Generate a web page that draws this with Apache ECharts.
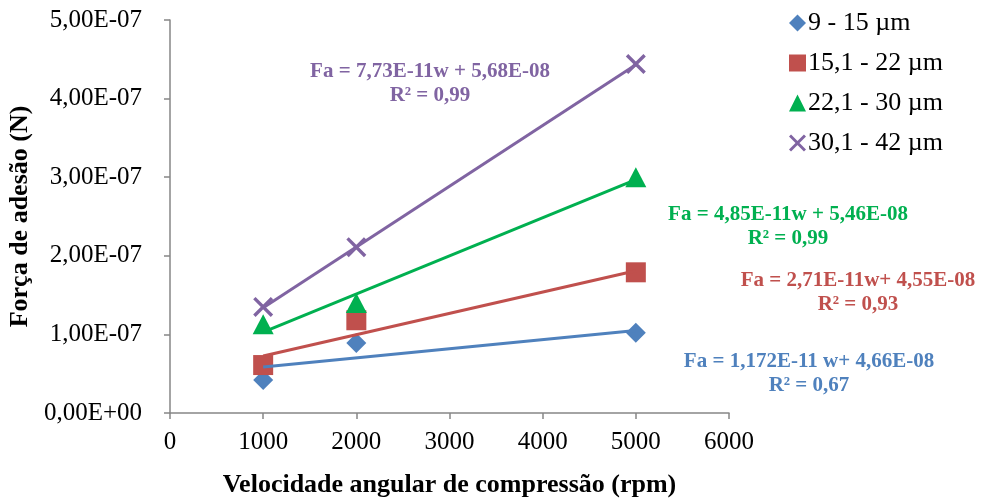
<!DOCTYPE html>
<html>
<head>
<meta charset="utf-8">
<script src="https://cdn.jsdelivr.net/npm/echarts@6/dist/echarts.min.js"></script>
<style>html,body{margin:0;padding:0;background:#fff}#c{width:981px;height:499px}</style>
</head>
<body>
<div id="c"></div>
<script>
// ---- data ----
const seriesNames = ['9 - 15 µm', '15,1 - 22 µm', '22,1 - 30 µm', '30,1 - 42 µm'];
const rpm = [1000, 2000, 5000];
const s1 = [0.42e-7, 0.89e-7, 1.02e-7];
const s2 = [0.61e-7, 1.18e-7, 1.79e-7];
const s3 = [1.13e-7, 1.40e-7, 3.00e-7];
const s4 = [1.35e-7, 2.11e-7, 4.44e-7];
const trendX = [1000, 5000];
const t1 = [0.585e-7, 1.05e-7];
const t2 = [0.725e-7, 1.81e-7];
const t3 = [1.03e-7, 2.97e-7];
const t4 = [1.34e-7, 4.43e-7];
const eqLines = [
  ['Fa = 1,172E-11 w+ 4,66E-08', 'R² = 0,67'],
  ['Fa = 2,71E-11w+ 4,55E-08', 'R² = 0,93'],
  ['Fa = 4,85E-11w + 5,46E-08', 'R² = 0,99'],
  ['Fa = 7,73E-11w + 5,68E-08', 'R² = 0,99']
];
const xTicks = {min: 0, max: 6000, interval: 1000};
const yTicks = {min: 0, max: 5e-7, interval: 1e-7};

// ---- styling ----
const colors = ['#4F81BD', '#C0504D', '#00B050', '#8064A2'];
const xPath = 'path://M0,1.2L1.2,0L10,8.8L8.8,10Z M8.8,0L10,1.2L1.2,10L0,8.8Z';
const symbols = ['diamond', 'rect', 'triangle', xPath];
const symSizes = [[20, 20], [20, 20], [21, 20], [20, 20]];
const font = '"Liberation Serif", "Times New Roman", serif';
const values = [s1, s2, s3, s4];
const trends = [t1, t2, t3, t4];

function fmtE(v) {
  if (Math.abs(v) < 1e-20) return '0,00E+00';
  let e = Math.floor(Math.log10(Math.abs(v)) + 1e-9);
  let m = v / Math.pow(10, e);
  let ms = (Math.round(m * 100) / 100).toFixed(2).replace('.', ',');
  let es = (e < 0 ? '-' : '+') + String(Math.abs(e)).padStart(2, '0');
  return ms + 'E' + es;
}

const series = [];
values.forEach((vals, i) => {
  series.push({
    name: seriesNames[i], type: 'scatter', z: 2,
    symbol: symbols[i], symbolSize: symSizes[i],
    itemStyle: {color: colors[i], opacity: 1},
    data: rpm.map((x, k) => [x, vals[k]])
  });
});
trends.forEach((tv, i) => {
  series.push({
    name: 'trend' + i, type: 'line', z: 3, symbol: 'none', silent: true,
    lineStyle: {color: colors[i], width: 3},
    data: trendX.map((x, k) => [x, tv[k]])
  });
});

const eqPos = [
  {x: 809, y: 362}, {x: 858, y: 281}, {x: 788, y: 215}, {x: 430, y: 72}
];
const graphic = [];
eqLines.forEach((lines, i) => {
  lines.forEach((t, j) => {
    graphic.push({
      type: 'text', x: eqPos[i].x, y: eqPos[i].y + j * 24,
      style: {text: t, fill: colors[i], font: 'bold 21px ' + font, align: 'center', verticalAlign: 'middle'}
    });
  });
});

const chart = echarts.init(document.getElementById('c'), null, {renderer: 'canvas'});
chart.setOption({
  animation: false,
  backgroundColor: '#fff',
  grid: {left: 170, right: 252, top: 20, bottom: 86, containLabel: false, outerBoundsMode: 'none'},
  legend: {
    orient: 'vertical', left: 784, top: 3,
    itemWidth: 17, itemHeight: 17, itemGap: 10,
    textStyle: {fontFamily: font, fontSize: 26, color: '#000', lineHeight: 30, padding: [0, 0, 0, -3]},
    data: seriesNames.map((n, i) => ({name: n, icon: symbols[i], itemStyle: {color: colors[i]}}))
  },
  xAxis: {
    type: 'value', min: xTicks.min, max: xTicks.max, interval: xTicks.interval,
    name: 'Velocidade angular de compressão (rpm)', nameLocation: 'middle', nameGap: 59,
    nameTextStyle: {fontFamily: font, fontSize: 26, fontWeight: 'bold', color: '#000'},
    axisLine: {show: true, lineStyle: {color: '#868686', width: 1.5}},
    axisTick: {show: true, length: 6, lineStyle: {color: '#868686', width: 1.5}},
    axisLabel: {fontFamily: font, fontSize: 25, color: '#000', margin: 17, formatter: v => String(v)},
    splitLine: {show: false}
  },
  yAxis: {
    type: 'value', min: yTicks.min, max: yTicks.max, interval: yTicks.interval,
    name: 'Força de adesão (N)', nameLocation: 'middle', nameGap: 125,
    nameTextStyle: {fontFamily: font, fontSize: 26, fontWeight: 'bold', color: '#000'},
    axisLine: {show: true, lineStyle: {color: '#868686', width: 1.5}},
    axisTick: {show: true, length: 6, lineStyle: {color: '#868686', width: 1.5}},
    axisLabel: {fontFamily: font, fontSize: 25, color: '#000', margin: 28, formatter: fmtE},
    splitLine: {show: false}
  },
  series: series,
  graphic: graphic
});
</script>
</body>
</html>
